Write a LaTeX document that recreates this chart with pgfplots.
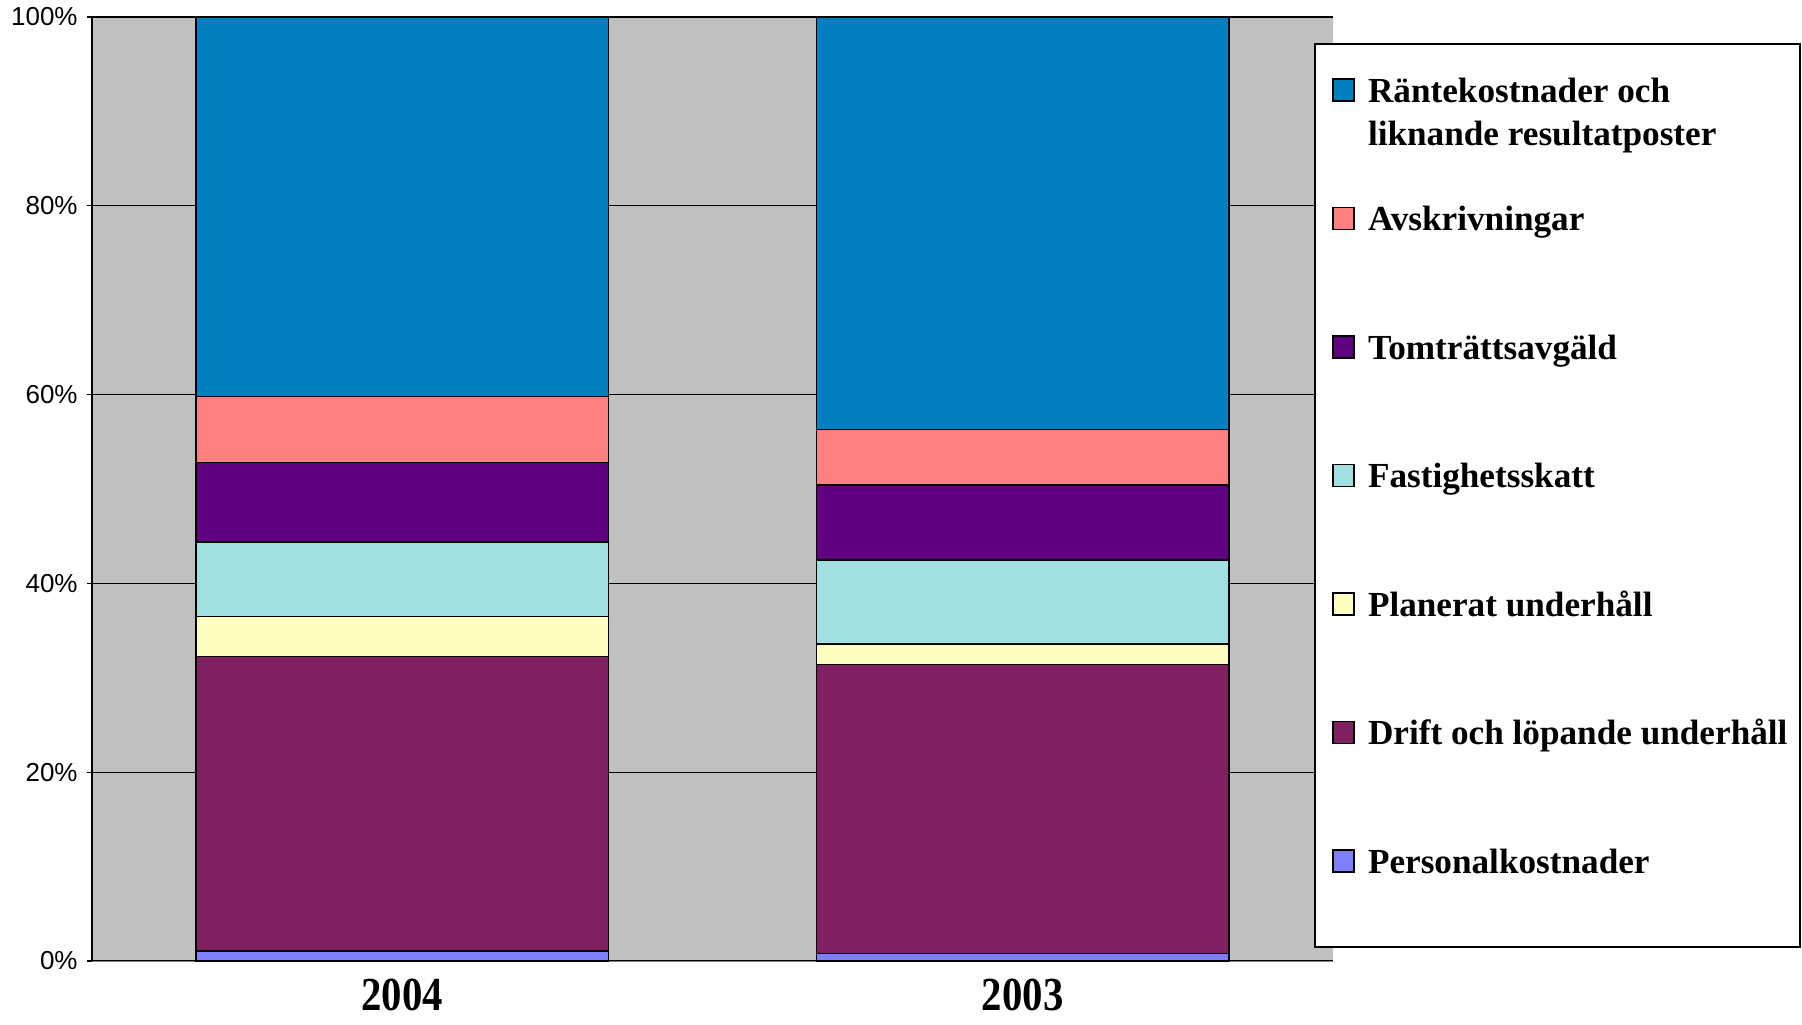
\documentclass[border=0pt]{standalone}
\usepackage{fontspec}
\setmainfont{Liberation Serif}
\setsansfont{Liberation Sans}
\usepackage{graphicx}
\usepackage{pgfplots}
\pgfplotsset{compat=1.18}
\definecolor{cRante}{RGB}{0,128,192}
\definecolor{cAvsk}{RGB}{255,128,128}
\definecolor{cTomt}{RGB}{96,0,128}
\definecolor{cFast}{RGB}{160,224,224}
\definecolor{cPlan}{RGB}{255,255,192}
\definecolor{cDrift}{RGB}{128,32,96}
\definecolor{cPers}{RGB}{128,128,255}
\definecolor{cBg}{RGB}{192,192,192}
\begin{document}
\begin{tikzpicture}
\useasboundingbox (0,0) rectangle (901pt,512pt);
\begin{axis}[
  at={(46pt,31.5pt)}, anchor=south west,
  scale only axis, width=620.5pt, height=472pt,
  ybar stacked, bar width=0.665,
  xmin=-0.5, xmax=1.5, ymin=0, ymax=100,
  xtick={0,1},
  xticklabels={\scalebox{0.86}[1]{2004},\scalebox{0.86}[1]{2003}},
  xticklabel style={font=\bfseries\fontsize{23.7}{28}\selectfont, anchor=base, inner sep=0pt, yshift=-22pt},
  ytick={0,20,40,60,80,100},
  yticklabels={0\%,20\%,40\%,60\%,80\%,100\%},
  yticklabel style={font=\sffamily\fontsize{13}{15}\selectfont, inner sep=0pt, xshift=-4.5pt},
  axis background/.style={fill=cBg},
  axis x line*=bottom, axis y line*=left,
  x axis line style={-, draw=gray},
  y axis line style={-, draw=black, line width=0.8pt},
  ymajorgrids, grid style={black, line width=0.6pt},
  tick align=outside, major tick length=2.5pt,
  xtick style={draw=none},
  ytick style={black, line width=0.6pt},
  clip=false,
  every axis plot/.append style={draw=black, line width=0.8pt},
  reverse legend,
  legend image code/.code={\draw[#1, line width=0.8pt] (0pt,0.5pt) rectangle (10.5pt,11.5pt);},
  legend style={draw=none, fill=none, at={(axis description cs:0.99919,0.93570)}, anchor=north west,
    inner sep=0pt, column sep=6.5pt, row sep=48.25pt,
    font=\bfseries\fontsize{17.6}{21.7}\selectfont,
    cells={anchor=base west},
    nodes={inner sep=0pt, text height=12pt, text depth=4pt}},
]
\draw[line width=1pt, fill=white] (axis description cs:0.98549,0.01483) rectangle (axis description cs:1.37631,0.97140);
\addplot[fill=cPers] coordinates {(0,1.05) (1,0.8)};
\addlegendentry{Personalkostnader}
\addplot[fill=cDrift] coordinates {(0,31.2) (1,30.6)};
\addlegendentry{Drift och löpande underhåll}
\addplot[fill=cPlan] coordinates {(0,4.25) (1,2.2)};
\addlegendentry{Planerat underhåll}
\addplot[fill=cFast] coordinates {(0,7.9) (1,8.9)};
\addlegendentry{Fastighetsskatt}
\addplot[fill=cTomt] coordinates {(0,8.4) (1,7.9)};
\addlegendentry{Tomträttsavgäld}
\addplot[fill=cAvsk] coordinates {(0,7.0) (1,5.9)};
\addlegendentry{Avskrivningar}
\addplot[fill=cRante] coordinates {(0,40.2) (1,43.7)};
\addlegendentry{\begin{tabular}[t]{@{}l@{}}Räntekostnader och\\liknande resultatposter\end{tabular}}
\end{axis}
\end{tikzpicture}
\end{document}
